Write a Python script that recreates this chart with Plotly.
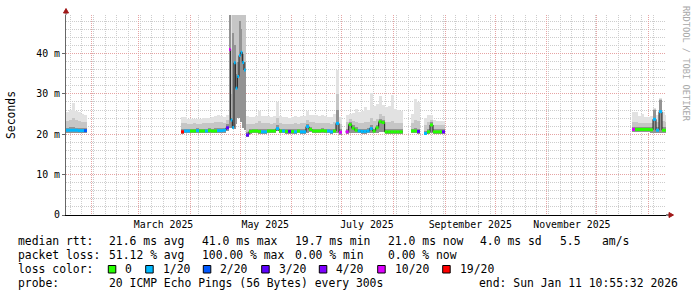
import plotly.graph_objects as go
from datetime import datetime, timedelta

# ---------------- data ----------------
END = datetime(2026, 1, 11, 10, 55, 32)
START = END - timedelta(days=360)

seg_start = ["2025-01-16 10:55", "2025-03-26 10:55", "2025-04-24 06:07", "2025-05-04 10:55",
             "2025-07-03 06:07", "2025-08-11 10:55", "2025-08-19 06:07", "2025-12-22 01:19"]
seg_step_h = [43.2, 43.2, 24.0, 43.2, 43.2, 43.2, 43.2, 43.2]

median_ms = [
    [21.0, 21.0, 21.0, 21.0, 20.9, 20.9, 20.9],
    [20.6, 20.8, 20.8, 20.8, 20.8, 20.9, 20.8, 20.8, 20.8, 20.9, 20.8, 20.8, 20.9, 20.9, 21.0, 21.6],
    [41.0, 23.5, 21.7, 37.7, 31.4, 34.3, 39.5, 40.3, 37.8, 35.9],
    [19.8, 20.7, 20.8, 20.8, 20.7, 20.6, 20.6, 20.8, 20.8, 20.8, 21.4, 20.8, 20.8, 20.7, 20.7, 20.7,
     20.6, 20.8, 20.6, 20.6, 21.9, 21.2, 20.8, 20.8, 20.8, 20.9, 20.8, 20.8, 20.6, 20.8, 22.7, 20.5],
    [20.6, 22.4, 21.5, 21.0, 20.8, 20.7, 20.7, 20.8, 21.4, 20.8, 21.6, 23.1, 22.9, 20.6, 20.6, 20.6, 20.6, 20.6, 20.6],
    [20.8, 20.8, 20.7],
    [20.2, 20.6, 22.3, 20.6, 20.6, 20.6, 20.6],
    [21.2, 21.2, 21.2, 21.2, 21.2, 21.2, 21.1, 23.7, 21.0, 25.6, 21.0, 21.0],
]
loss_20 = [
    [1, 1, 1, 1, 1, 1, 2],
    [19, 1, 1, 0, 0, 1, 0, 0, 1, 0, 0, 0, 1, 1, 1, 3],
    [10, 1, 1, 1, 1, 1, 1, 1, 1, 1],
    [3, 0, 0, 0, 0, 1, 1, 0, 0, 0, 1, 0, 1, 0, 3, 0, 1, 0, 1, 1, 1, 0, 0, 0, 0, 0, 0, 1, 1, 0, 1, 10],
    [10, 0, 0, 0, 1, 1, 1, 1, 1, 0, 0, 0, 0, 0, 0, 0, 0, 0, 0],
    [0, 0, 3],
    [1, 0, 0, 0, 0, 0, 3],
    [10, 0, 0, 0, 0, 0, 0, 1, 1, 1, 0, 0],
]
min_ms = [
    [20.3, 20.3, 20.3, 20.3, 20.2, 20.2, 20.2],
    [20.0, 20.2, 20.2, 20.2, 20.2, 20.3, 20.2, 20.2, 20.2, 20.3, 20.2, 20.2, 20.3, 20.3, 20.4, 20.9],
    [21.6, 21.5, 21.2, 21.2, 22.5, 24.0, 24.0, 23.0, 21.5, 21.0],
    [19.2, 20.1, 20.2, 20.2, 20.1, 20.0, 20.0, 20.2, 20.2, 20.2, 20.8, 20.2, 20.2, 20.1, 20.1, 20.1,
     20.0, 20.2, 20.0, 20.0, 20.4, 20.6, 20.2, 20.2, 20.2, 20.3, 20.2, 20.2, 20.0, 20.2, 20.4, 19.9],
    [20.0, 20.4, 20.4, 20.3, 20.2, 20.1, 20.1, 20.2, 20.3, 20.2, 20.4, 20.6, 20.5, 20.0, 20.0, 20.0, 20.0, 20.0, 20.0],
    [20.2, 20.2, 20.1],
    [19.7, 20.0, 20.2, 20.0, 20.0, 20.0, 20.0],
    [20.5, 20.5, 20.5, 20.5, 20.5, 20.5, 20.4, 20.4, 20.3, 20.3, 20.3, 20.3],
]
p60_ms = [
    [21.6, 21.7, 21.8, 21.6, 21.5, 21.5, 21.5],
    [21.3, 21.4, 21.4, 21.4, 21.4, 21.5, 21.4, 21.4, 21.4, 21.5, 21.4, 21.5, 21.6, 21.5, 21.6, 22.5],
    [50.0, 24.0, 45.0, 42.0, 35.0, 38.0, 48.0, 46.0, 40.0, 38.0],
    [20.6, 21.3, 21.4, 21.4, 21.4, 21.2, 21.2, 21.4, 21.4, 21.4, 22.2, 21.4, 21.4, 21.3, 21.3, 21.3,
     21.2, 21.4, 21.3, 21.3, 22.6, 21.8, 21.4, 21.4, 21.4, 21.5, 21.4, 21.4, 21.2, 21.4, 26.0, 21.2],
    [21.2, 23.0, 22.2, 21.7, 21.4, 21.3, 21.4, 21.5, 22.2, 21.4, 22.4, 23.8, 23.6, 21.3, 21.3, 21.4, 21.2, 21.2, 21.2],
    [21.4, 21.6, 21.4],
    [20.9, 21.3, 23.0, 21.2, 21.2, 21.2, 21.2],
    [21.9, 21.9, 21.9, 21.9, 21.9, 21.9, 21.8, 26.0, 21.7, 28.5, 21.7, 21.7],
]
p80_ms = [
    [23.3, 23.5, 24.0, 23.6, 23.2, 23.0, 23.0],
    [22.8, 22.7, 22.6, 22.6, 22.7, 22.6, 22.6, 22.7, 22.7, 22.8, 22.9, 23.0, 23.1, 23.0, 22.9, 23.5],
    [50.0, 30.0, 50.0, 50.0, 50.0, 50.0, 50.0, 50.0, 50.0, 50.0],
    [22.5, 22.6, 22.6, 22.7, 23.2, 22.8, 22.8, 22.7, 22.6, 22.7, 24.0, 22.7, 22.6, 22.6, 22.5, 22.6,
     22.7, 22.6, 22.8, 22.9, 23.6, 23.0, 23.0, 22.9, 22.8, 22.9, 22.8, 22.7, 22.6, 23.0, 30.0, 22.5],
    [23.0, 23.8, 23.3, 23.0, 22.9, 22.9, 23.0, 23.0, 24.0, 23.2, 23.8, 25.0, 24.6, 23.0, 23.0, 23.3, 22.9, 22.8, 22.8],
    [22.8, 23.5, 23.3],
    [22.3, 23.0, 23.5, 22.4, 22.3, 22.3, 22.3],
    [23.0, 23.0, 22.8, 22.9, 22.7, 22.7, 22.9, 26.2, 23.0, 28.7, 23.3, 23.0],
]
max_ms = [
    [25.6, 26.0, 27.8, 25.8, 25.5, 24.9, 24.8],
    [24.3, 24.2, 23.9, 23.8, 23.9, 23.8, 23.8, 24.0, 24.0, 24.1, 24.3, 24.5, 24.8, 24.6, 24.2, 24.8],
    [50.0, 50.0, 50.0, 50.0, 50.0, 50.0, 50.0, 50.0, 50.0, 50.0],
    [24.5, 24.3, 24.2, 24.4, 25.8, 24.6, 24.6, 24.4, 24.3, 24.5, 28.1, 24.5, 24.2, 24.3, 24.0, 24.2,
     24.4, 24.3, 24.5, 24.6, 25.8, 24.8, 24.8, 24.7, 24.6, 24.8, 24.5, 24.3, 24.3, 25.0, 35.8, 24.2],
    [24.8, 25.0, 25.3, 26.2, 25.6, 25.8, 26.8, 26.0, 30.1, 27.0, 27.4, 29.5, 27.2, 26.8, 26.9, 29.7, 26.2, 26.0, 25.8],
    [25.0, 28.7, 28.0],
    [24.0, 24.8, 24.8, 23.5, 23.3, 23.3, 23.2],
    [25.4, 25.4, 24.6, 24.9, 24.3, 24.3, 24.4, 26.4, 24.8, 28.9, 25.5, 24.8],
]

loss_levels = [0, 1, 2, 3, 4, 10, 19]
loss_labels = ["0", "1/20", "2/20", "3/20", "4/20", "10/20", "19/20"]
loss_colors = ["#26ff00", "#00b8ff", "#0059ff", "#5e00ff", "#7e00ff", "#dd00ff", "#ff0000"]

month_label_dates = ["2025-03-16", "2025-05-16", "2025-07-16", "2025-09-16", "2025-11-16"]
month_labels = ["March 2025", "May 2025", "July 2025", "September 2025", "November 2025"]
y_ticks = [0, 10, 20, 30, 40]
y_tick_text = ["0", "10 m", "20 m", "30 m", "40 m"]

stats_rtt = ["median rtt:", "21.6 ms avg", "41.0 ms max", "19.7 ms min", "21.0 ms now", "4.0 ms sd", "5.5", "am/s"]
stats_loss = ["packet loss:", "51.12 % avg", "100.00 % max", "0.00 % min", "0.00 % now"]
probe_text = ["probe:", "20 ICMP Echo Pings (56 Bytes) every 300s"]
end_text = "end: Sun Jan 11 10:55:32 2026"

# ---------------- layout constants ----------------
W, H = 697, 297
PL, PR, PT, PB = 66, 666, 15, 215
MONO = "DejaVu Sans Mono"
LEG_FS = 11.4
AX_FS = 9.9


def px(x):
    return (x - PL) / (PR - PL)


def py(y):
    return (PB - y) / (PB - PT)


color_of = dict(zip(loss_levels, loss_colors))

layers = {k: dict(x=[], w=[], base=[], h=[]) for k in ("light", "mid", "dark")}
line_x, line_y = [], []
med_lines = {c: ([], []) for c in loss_colors}

for i in range(len(seg_start)):
    t0 = datetime.fromisoformat(seg_start[i])
    step = timedelta(hours=seg_step_h[i])
    wms = step.total_seconds() * 1000.0
    for k, m in enumerate(median_ms[i]):
        c = t0 + step * (k + 0.5)
        lo = min_ms[i][k]
        for name, top in (("light", max_ms[i][k]), ("mid", p80_ms[i][k]), ("dark", p60_ms[i][k])):
            L = layers[name]
            L["x"].append(c); L["w"].append(wms); L["base"].append(lo); L["h"].append(top - lo)
        line_x.append(t0 + step * k); line_y.append(m)
        mx, my = med_lines[color_of[loss_20[i][k]]]
        mx += [t0 + step * k, t0 + step * (k + 1), None]
        my += [m, m, None]
    line_x.append(t0 + step * len(median_ms[i])); line_y.append(median_ms[i][-1])
    line_x.append(None); line_y.append(None)

fig = go.Figure()
shade = {"light": "#e2e2e2", "mid": "#c6c6c6", "dark": "#939393"}
for name in ("light", "mid", "dark"):
    L = layers[name]
    fig.add_trace(go.Bar(x=L["x"], y=L["h"], base=L["base"], width=L["w"],
                         marker=dict(color=shade[name], line=dict(width=0)),
                         hoverinfo="skip", showlegend=False))
fig.add_trace(go.Scatter(x=line_x, y=line_y, mode="lines",
                         line=dict(color="#202020", width=1, shape="hv"),
                         hoverinfo="skip", showlegend=False))
for col in loss_colors:
    mx, my = med_lines[col]
    if mx:
        fig.add_trace(go.Scatter(x=mx, y=my, mode="lines", line=dict(color=col, width=3),
                                 hoverinfo="skip", showlegend=False))
# carrier trace for the label axis
fig.add_trace(go.Scatter(x=[START, END], y=[-5, -5], xaxis="x2", mode="lines",
                         line=dict(width=0), hoverinfo="skip", showlegend=False))

GRID_MAJ = "#e6a3a3"
GRID_MIN = "#cdcdcd"
DOT = "1px,1px"

fig.update_layout(
    width=W, height=H, autosize=False,
    margin=dict(l=PL, r=W - PR, t=PT, b=H - PB),
    paper_bgcolor="white", plot_bgcolor="white",
    barmode="overlay", bargap=0, showlegend=False,
    font=dict(family=MONO, size=LEG_FS, color="#000"),
    xaxis=dict(type="date", range=[START, END], dtick="M1", tick0="2025-01-01",
               showticklabels=False, ticks="", showgrid=True, gridcolor=GRID_MAJ,
               griddash=DOT, gridwidth=1, zeroline=False, showline=True,
               linecolor="#000", linewidth=1,
               minor=dict(dtick=7 * 86400000, tick0="2025-01-19", showgrid=True,
                          gridcolor=GRID_MIN, griddash=DOT, gridwidth=1)),
    xaxis2=dict(type="date", overlaying="x", anchor="y", side="bottom", range=[START, END],
                tickmode="array", tickvals=month_label_dates, ticktext=month_labels,
                showgrid=False, zeroline=False, showline=False, ticks="",
                ticklabelstandoff=2,
                tickfont=dict(family=MONO, size=AX_FS, color="#000")),
    yaxis=dict(range=[0, 200 / 4.0375], tickmode="array", tickvals=y_ticks, ticktext=y_tick_text,
               showgrid=True, gridcolor=GRID_MAJ, griddash=DOT, gridwidth=1,
               zeroline=False, showline=True, linecolor="#666", linewidth=1,
               ticks="outside", ticklen=3, tickcolor="#666",
               tickfont=dict(family=MONO, size=AX_FS, color="#000"),
               minor=dict(dtick=2, showgrid=True, gridcolor=GRID_MIN, griddash=DOT, gridwidth=1)),
)

ann = []
shapes = []


def text(x, y, s, anchor="left", size=LEG_FS, color="#000", angle=0, yanchor="middle"):
    ann.append(dict(x=px(x), y=py(y), xref="paper", yref="paper", text=s, showarrow=False,
                    xanchor=anchor, yanchor=yanchor, textangle=angle,
                    font=dict(family=MONO, size=size, color=color)))


# axis title and watermark
text(11, 115, "Seconds", anchor="center", angle=-90)
text(686, 4, "RRDTOOL / TOBI OETIKER", anchor="center", size=8.7, color="#a8a8a8", angle=90, yanchor="top")

# legend lines
rtt_x = [16, 107.3, 200, 293.3, 386, 478.3, 558.3, 600]
for s, x in zip(stats_rtt, rtt_x):
    text(x, 241, s)
loss_x = [16, 107.3, 200, 293.3, 386]
for s, x in zip(stats_loss, loss_x):
    text(x, 255, s)
text(16, 269, "loss color:")
box_x = [108.3, 145.7, 203.3, 261.7, 319.3, 377.7, 442.7]
for lab, col, x in zip(loss_labels, loss_colors, box_x):
    shapes.append(dict(type="rect", xref="paper", yref="paper", x0=px(x), x1=px(x + 7.5),
                       y0=py(273), y1=py(265.5), fillcolor=col, line=dict(color="#000", width=1)))
    text(x + 15, 269, lab)
text(16, 282.7, probe_text[0])
text(107.3, 282.7, probe_text[1])
text(680, 282.7, end_text, anchor="right")

# axis arrows
AR = "#a01818"
shapes.append(dict(type="line", xref="paper", yref="paper", x0=px(PL), x1=px(PL),
                   y0=py(PT), y1=py(11), line=dict(color="#666", width=1)))
shapes.append(dict(type="path", xref="paper", yref="paper", fillcolor=AR, line=dict(color=AR, width=1),
                   path=f"M {px(63.5)},{py(13)} L {px(68.5)},{py(13)} L {px(66)},{py(8.5)} Z"))
shapes.append(dict(type="line", xref="paper", yref="paper", x0=px(PR), x1=px(670),
                   y0=py(PB), y1=py(PB), line=dict(color="#000", width=1)))
shapes.append(dict(type="path", xref="paper", yref="paper", fillcolor=AR, line=dict(color=AR, width=1),
                   path=f"M {px(669)},{py(212.5)} L {px(669)},{py(217.5)} L {px(673.5)},{py(215)} Z"))

fig.update_layout(annotations=ann, shapes=shapes)
fig.write_html("out.html")
